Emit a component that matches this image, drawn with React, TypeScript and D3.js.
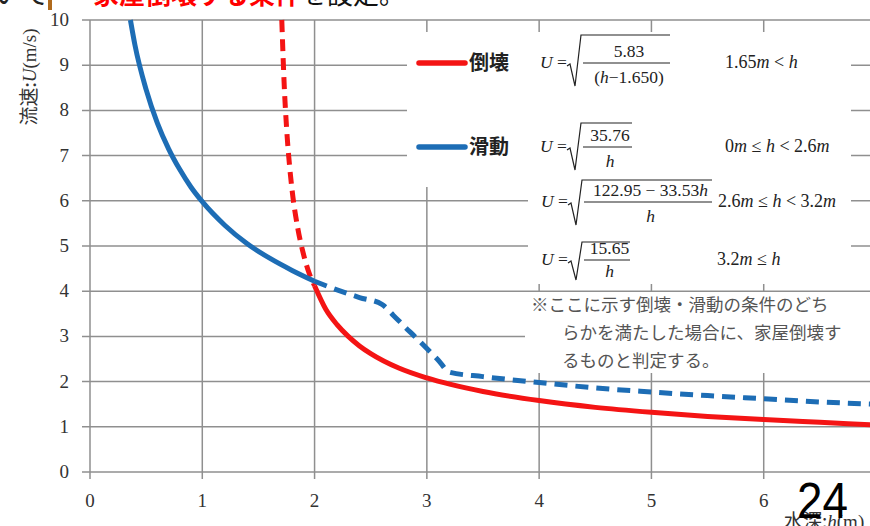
import React from "react";
import * as d3 from "d3";

// values: water depth h (m) -> flow speed U (m/s)
const collapseSolidH = [2.0, 2.1, 2.2, 2.3, 2.4, 2.5, 2.75, 3.0, 3.5, 4.0, 4.5, 5.0, 5.5, 6.0, 6.5, 7.0];
const collapseSolidU = [4.12, 3.6, 3.26, 3.0, 2.79, 2.62, 2.3, 2.08, 1.78, 1.58, 1.43, 1.32, 1.23, 1.16, 1.1, 1.04];
const collapseDashH = [1.708, 1.73, 1.75, 1.78, 1.8, 1.85, 1.9, 1.95, 2.0];
const collapseDashU = [10, 8.54, 7.64, 6.7, 6.23, 5.4, 4.83, 4.41, 4.12];
const slideSolidH = [0.36, 0.4, 0.5, 0.6, 0.7, 0.8, 0.9, 1.0, 1.2, 1.4, 1.6, 1.8, 2.0];
const slideSolidU = [10, 9.45, 8.46, 7.72, 7.15, 6.69, 6.3, 5.98, 5.46, 5.05, 4.73, 4.46, 4.22];
const slideDashH = [2.0, 2.2, 2.4, 2.6, 2.7, 2.8, 2.9, 3.0, 3.1, 3.2, 3.5, 4.0, 4.5, 5.0, 5.5, 6.0, 6.5, 7.0];
const slideDashU = [4.22, 4.03, 3.86, 3.71, 3.47, 3.22, 2.98, 2.73, 2.48, 2.21, 2.11, 1.98, 1.86, 1.77, 1.69, 1.62, 1.55, 1.5];

const xTicks = [0, 1, 2, 3, 4, 5, 6, 7];
const yTicks = [0, 1, 2, 3, 4, 5, 6, 7, 8, 9, 10];
const legendLabels = ["倒壊", "滑動"];
const noteLines = [
  "※ここに示す倒壊・滑動の条件のどち",
  "らかを満たした場合に、家屋倒壊す",
  "るものと判定する。",
];

const RED = "#f41414";
const BLUE = "#1d6db5";
const GRID = "#8f8f8f";
const SERIF = "'Liberation Serif', 'DejaVu Serif', serif";
const JP = "'Noto Sans CJK JP', sans-serif";

// italicise the latin letters (U, h, m) like the equation editor does
function MathText(props: { x: number; y: number; s: string; anchor?: string; size?: number }) {
  const parts = props.s.split(/([A-Za-z]+)/).filter((p) => p !== "");
  return (
    <text x={props.x} y={props.y} textAnchor={props.anchor || "start"} fontFamily={SERIF} fontSize={props.size || 17.5} fill="#222">
      {parts.map((p, i) => (
        <tspan key={i} fontStyle={/[A-Za-z]/.test(p) ? "italic" : "normal"}>{p}</tspan>
      ))}
    </text>
  );
}

function Formula(props: { x: number; top: number; bottom: number; end: number; num: string; den: string; cond: string; condX: number; base: number }) {
  const { x, top, bottom, end, num, den, cond, condX, base } = props;
  const bar = base - 5;
  const mid = (x + 12 + end) / 2;
  return (
    <g>
      <MathText x={x} y={base} s="U = " />
      <path
        d={`M${x + 27},${base - 2} L${x + 30},${base - 4} L${x + 35},${bottom} L${x + 41},${top} L${end},${top}`}
        fill="none"
        stroke="#222"
        strokeWidth={1.2}
      />
      <line x1={x + 43} x2={end} y1={bar} y2={bar} stroke="#222" strokeWidth={1.2} />
      <MathText x={mid + 18} y={bar - 6} s={num} anchor="middle" />
      <MathText x={mid + 18} y={bottom - 3} s={den} anchor="middle" />
      <MathText x={condX} y={base} s={cond} size={18} />
    </g>
  );
}

export default function App() {
  const x = d3.scaleLinear().domain([0, 7]).range([90, 876]);
  const y = d3.scaleLinear().domain([0, 10]).range([472, 20]);
  const line = d3
    .line<[number, number]>()
    .x((d) => x(d[0]))
    .y((d) => y(d[1]))
    .curve(d3.curveMonotoneX);
  const pts = (hs: number[], us: number[]) => hs.map((h, i) => [h, us[i]] as [number, number]);

  return (
    <svg width={870} height={526} style={{ position: "absolute", left: 0, top: 0, background: "#fff" }}>
      <defs>
        <clipPath id="plot">
          <rect x={88} y={14} width={790} height={460} />
        </clipPath>
      </defs>

      {/* bit of slide title cut off at the top */}
      <text x={-6} y={4} fontFamily={JP} fontSize={28} fill="#222">いて</text>
      <rect x={48} y={0} width={4} height={10} fill="#b06a1c" />
      <text x={93} y={4} fontFamily={JP} fontSize={26} fontWeight={700} fill="#f00">家屋倒壊する条件</text>
      <text x={301} y={4} fontFamily={JP} fontSize={26} fill="#111">を設定。</text>

      {/* grid */}
      {yTicks.map((t) => (
        <line key={"h" + t} x1={82} x2={876} y1={y(t)} y2={y(t)} stroke={GRID} strokeWidth={1.5} />
      ))}
      {xTicks.map((t) => (
        <line key={"v" + t} x1={x(t)} x2={x(t)} y1={y(10)} y2={479} stroke={GRID} strokeWidth={1.5} />
      ))}

      {/* white panels behind the formulas */}
      <rect x={407} y={32} width={444} height={155} fill="#fff" />
      <rect x={528} y={186} width={323} height={98} fill="#fff" />
      <rect x={525} y={292} width={345} height={81} fill="#fff" />
      <rect x={14} y={18} width={34} height={120} fill="#fff" />

      {/* ticks */}
      {yTicks.map((t) => (
        <text key={"yl" + t} x={69} y={y(t) + 6} textAnchor="end" fontFamily={SERIF} fontSize={19} fill="#333">{t}</text>
      ))}
      {xTicks.slice(0, 7).map((t) => (
        <text key={"xl" + t} x={x(t)} y={507} textAnchor="middle" fontFamily={SERIF} fontSize={19} fill="#333">{t}</text>
      ))}

      {/* curves */}
      <g clipPath="url(#plot)" fill="none" strokeWidth={5}>
        <path d={line(pts(collapseDashH, collapseDashU)) || ""} stroke={RED} strokeDasharray="12 7" />
        <path d={line(pts(slideSolidH, slideSolidU)) || ""} stroke={BLUE} />
        <path d={line(pts(collapseSolidH, collapseSolidU)) || ""} stroke={RED} />
        <path d={line(pts(slideDashH, slideDashU)) || ""} stroke={BLUE} strokeDasharray="13 8" />
      </g>

      {/* legend */}
      {legendLabels.map((lab, i) => (
        <g key={lab}>
          <line x1={419} x2={465} y1={i === 0 ? 63 : 147} y2={i === 0 ? 63 : 147} stroke={i === 0 ? RED : BLUE} strokeWidth={5.5} strokeLinecap="round" />
          <text x={469} y={(i === 0 ? 63 : 147) + 7} fontFamily={JP} fontWeight={700} fontSize={20} fill="#222">{lab}</text>
        </g>
      ))}

      <Formula x={540} base={68} top={35} bottom={86} end={670} num="5.83" den="(h−1.650)" cond="1.65m < h" condX={725} />
      <Formula x={540} base={152} top={123} bottom={170} end={632} num="35.76" den="h" cond="0m ≤ h < 2.6m" condX={725} />
      <Formula x={541} base={207} top={180} bottom={225} end={712} num="122.95 − 33.53h" den="h" cond="2.6m ≤ h < 3.2m" condX={718} />
      <Formula x={541} base={265} top={242} bottom={280} end={630} num="15.65" den="h" cond="3.2m ≤ h" condX={717} />

      {noteLines.map((s, i) => (
        <text key={i} x={i === 0 ? 531 : 562} y={311 + i * 28} fontFamily={JP} fontSize={17.5} fill="#555">{s}</text>
      ))}

      {/* axis titles */}
      <text transform="translate(36,77) rotate(-90)" textAnchor="middle" fontSize={19} fill="#333">
        <tspan fontFamily={JP}>流速:</tspan>
        <tspan fontFamily={SERIF} fontStyle="italic">U</tspan>
        <tspan fontFamily={SERIF}>(m/s)</tspan>
      </text>
      <text x={784} y={528} fontSize={19} fill="#333">
        <tspan fontFamily={JP}>水深:</tspan>
        <tspan fontFamily={SERIF} fontStyle="italic">h</tspan>
        <tspan fontFamily={SERIF}>(m)</tspan>
      </text>

      {/* slide page number */}
      <text x={797} y={518} fontFamily="'Liberation Sans', sans-serif" fontSize={50} fill="#000" textLength={51} lengthAdjust="spacingAndGlyphs">24</text>
    </svg>
  );
}
